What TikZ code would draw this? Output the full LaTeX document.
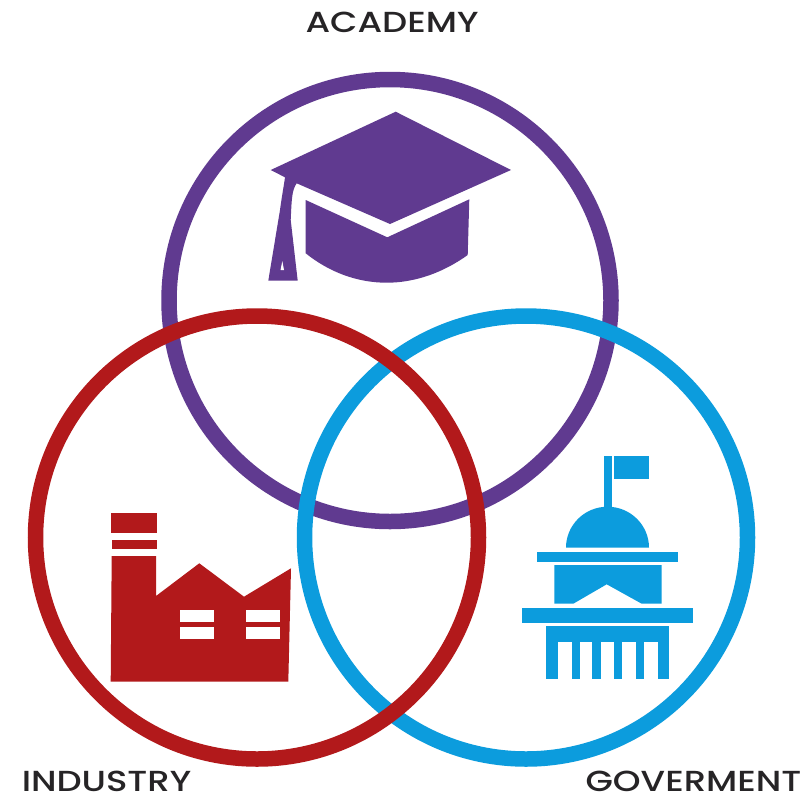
\documentclass[tikz,border=0pt]{standalone}
\usepackage{fontspec}
\newfontfamily\labfont[FakeStretch=1.22]{Poppins Medium}
\definecolor{acad}{HTML}{603A90}
\definecolor{indu}{HTML}{B2191B}
\definecolor{gove}{HTML}{0C9CDD}
\definecolor{ink}{HTML}{262426}
\tikzset{
  ring/.style={line width=15.5pt,draw=#1},
  lab/.style={text=ink,font=\labfont\fontsize{29}{29}\selectfont,inner sep=0pt,anchor=center},
  hole/.style={fill=white,draw=none},
}
\begin{document}
\begin{tikzpicture}[x=1pt,y=-1pt]
\useasboundingbox (0,0) rectangle (810,796);
\fill[white] (0,0) rectangle (810,796);
% rings
\draw[ring=acad] (390,300.5) circle (221);
\draw[ring=gove] (526,537.5) circle (221.5);
\draw[ring=indu] (257,537.5) circle (221.5);
% cap
\fill[acad] (395.7,111.7) -- (511,170) -- (390,224) -- (296.7,183.3)
  .. controls (292,190) and (291.7,198) .. (290.7,220) -- (297.7,280.7) -- (268.3,280.7)
  -- (280,210) .. controls (282,195) and (284,185) .. (285,177.3) -- (270.7,170) -- cycle;
\fill[white] (282.3,261) -- (280.5,270) -- (284,270) -- cycle;
\fill[acad] (305.7,200) -- (387.3,237.3) -- (469.3,199.3) -- (467.7,255)
  .. controls (444,272) and (416,282.7) .. (386.7,282.7)
  .. controls (357,282.7) and (329,272) .. (305.7,253.3) -- cycle;
% factory
\fill[indu] (110.7,512.7) rectangle (156.7,532.7);
\fill[indu] (111.7,540) rectangle (156.7,548.7);
\fill[indu] (111.7,556) -- (156,556) -- (156,596) -- (199.3,563.3) -- (244,596.7)
  -- (291,568.3) -- (288.3,681.7) -- (110.7,681.7) -- cycle;
\fill[hole] (180,610) rectangle (214.3,621.7);
\fill[hole] (180,627.3) rectangle (214.3,639);
\fill[hole] (245.7,610) rectangle (280,621.7);
\fill[hole] (245.7,627.3) rectangle (280,639);
% building
\fill[gove] (604,456) rectangle (611.7,510);
\fill[gove] (614.3,456) rectangle (649,479);
\fill[gove] (566,547.7) arc[start angle=180,end angle=360,x radius=41.5,y radius=41] -- cycle;
\fill[gove] (536.7,552.3) rectangle (678,561.7);
\fill[gove] (554.3,565) -- (661.7,565) -- (661.7,603.7) -- (641.7,603.7) -- (606.7,584.3)
  -- (573.3,603.7) -- (554.3,603.7) -- cycle;
\fill[gove] (522,607.7) rectangle (692.7,622.7);
\fill[gove] (546,626) rectangle (668.7,641.7);
\foreach \a/\b in {546/557.7,571.7/580,592.3/601,614/622,635.7/644.3,657.7/668.7}
  \fill[gove] (\a,640) rectangle (\b,679.3);
% labels
\node[lab] (academy) at (392,22) {ACADEMY};
\node[lab] (industry) at (106.5,781.5) {INDUSTRY};
\node[lab] (goverment) at (693.5,781.5) {GOVERMENT};
\end{tikzpicture}
\end{document}
